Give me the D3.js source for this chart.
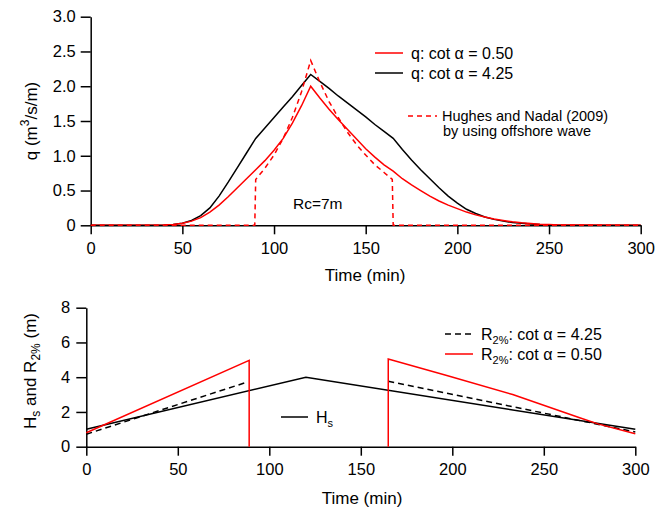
<!DOCTYPE html>
<html>
<head>
<meta charset="utf-8">
<script src="https://cdn.jsdelivr.net/npm/d3@7"></script>
<style>
body { margin: 0; background: #fff; }
text { font-family: Arial, "Liberation Sans", sans-serif; fill: #000; }
.axis path, .axis line { stroke: #000; stroke-width: 1.5; }
.axis text { font-size: 16.5px; font-family: Arial, "Liberation Sans", sans-serif; }
</style>
</head>
<body>
<div id="chart"></div>
<script>
// top panel - overtopping discharge q (m3/s/m) against time (min)
var qTime = [0, 30, 35, 40, 45, 50, 55, 60, 65, 70, 75, 80, 85, 90, 95, 100, 105, 110, 115, 120,
             125, 130, 135, 140, 145, 150, 155, 160, 165, 170, 175, 180, 185, 190, 195, 200,
             205, 210, 215, 220, 225, 230, 235, 240, 245, 250, 255, 260, 300];
var qCot425 = [0, 0, 0.002, 0.005, 0.012, 0.03, 0.07, 0.14, 0.25, 0.42, 0.62, 0.83, 1.04, 1.25, 1.40, 1.55, 1.70, 1.85, 2.01, 2.17,
               2.07, 1.97, 1.86, 1.76, 1.66, 1.56, 1.45, 1.35, 1.25, 1.09, 0.94, 0.80, 0.67, 0.54, 0.42, 0.32,
               0.23, 0.17, 0.12, 0.085, 0.06, 0.04, 0.028, 0.018, 0.01, 0.005, 0.002, 0, 0];
var qCot050 = [0, 0, 0.002, 0.005, 0.012, 0.03, 0.06, 0.11, 0.19, 0.29, 0.41, 0.54, 0.67, 0.80, 0.93, 1.08, 1.25, 1.47, 1.72, 2.00,
               1.83, 1.67, 1.52, 1.38, 1.24, 1.10, 0.98, 0.87, 0.78, 0.67, 0.58, 0.50, 0.42, 0.35, 0.29, 0.24,
               0.19, 0.15, 0.12, 0.09, 0.07, 0.05, 0.035, 0.025, 0.016, 0.01, 0.005, 0.003, 0];
// Hughes and Nadal (2009)
var hnTime = [0, 89.5, 90, 95, 100, 105, 110, 115, 120, 125, 130, 135, 140, 145, 150, 155, 160, 164.5, 165, 300];
var hnQ    = [0, 0, 0.66, 0.82, 1.01, 1.25, 1.55, 1.92, 2.37, 2.06, 1.78, 1.55, 1.34, 1.16, 1.01, 0.87, 0.76, 0.66, 0, 0];

// bottom panel - Hs and R2%
var hsTime = [0, 120, 300];
var hsVal  = [1.0, 4.0, 1.0];
var r425Time = [0, 88, null, 165, 300];
var r425Val  = [0.72, 3.72, null, 3.77, 0.85];
var r050Time = [0, 89, 89, null, 165, 165, 197, 233, 270, 280, 300];
var r050Val  = [0.8, 4.97, 0, null, 0, 5.05, 4.1, 3.0, 1.65, 1.3, 0.75];

var timeTicks = [0, 50, 100, 150, 200, 250, 300];
var qTicks = [0, 0.5, 1.0, 1.5, 2.0, 2.5, 3.0];
var hTicks = [0, 2, 4, 6, 8];

var svgWidth = 668;
var svgHeight = 510;

var svg = d3.select("#chart")
  .append("svg")
  .attr("width", svgWidth)
  .attr("height", svgHeight);

function zip(xs, ys) {
  return xs.map(function(x, i) { return {t: x, v: ys[i]}; });
}

// ---------- top panel ----------
var topBox = {left: 90.7, top: 16.7, width: 550, height: 208.6};
var gTop = svg.append("g").attr("transform", `translate(${topBox.left}, ${topBox.top})`);

var xTop = d3.scaleLinear().domain([0, 300]).range([0, topBox.width]);
var yTop = d3.scaleLinear().domain([0, 3]).range([topBox.height, 0]);

var lineTop = d3.line().x(d => xTop(d.t)).y(d => yTop(d.v));

gTop.append("path")
  .attr("d", lineTop(zip(qTime, qCot425)))
  .attr("fill", "none").attr("stroke", "#000").attr("stroke-width", 1.5);

gTop.append("path")
  .attr("d", lineTop(zip(qTime, qCot050)))
  .attr("fill", "none").attr("stroke", "#ff0000").attr("stroke-width", 1.5);

gTop.append("g")
  .attr("class", "axis")
  .attr("transform", `translate(0, ${topBox.height})`)
  .call(d3.axisBottom(xTop).tickValues(timeTicks).tickSize(9).tickSizeOuter(0).tickPadding(8));

gTop.append("g")
  .attr("class", "axis")
  .call(d3.axisLeft(yTop).tickValues(qTicks).tickSize(10).tickSizeOuter(0).tickPadding(5)
    .tickFormat(d => d === 0 ? "0" : d3.format(".1f")(d)));

gTop.append("path")
  .attr("d", lineTop(zip(hnTime, hnQ)))
  .attr("fill", "none").attr("stroke", "#ff0000").attr("stroke-width", 1.5)
  .attr("stroke-dasharray", "5,4");

// axis titles
svg.append("text")
  .attr("x", 365).attr("y", 281)
  .style("text-anchor", "middle").style("font-size", "17px")
  .text("Time (min)");

var qLab = svg.append("text")
  .attr("transform", "translate(37, 121) rotate(-90)")
  .style("text-anchor", "middle").style("font-size", "17px");
qLab.append("tspan").text("q (m");
qLab.append("tspan").attr("dy", -8).style("font-size", "12px").text("3");
qLab.append("tspan").attr("dy", 8).text("/s/m)");

svg.append("text")
  .attr("x", 293).attr("y", 209)
  .style("font-size", "15.5px")
  .text("Rc=7m");

// top legend
var legTop = svg.append("g");
legTop.append("line").attr("x1", 375).attr("x2", 403).attr("y1", 53).attr("y2", 53)
  .attr("stroke", "#ff0000").attr("stroke-width", 1.5);
legTop.append("text").attr("x", 411).attr("y", 59).style("font-size", "16px").text("q: cot α = 0.50");
legTop.append("line").attr("x1", 375).attr("x2", 403).attr("y1", 73).attr("y2", 73)
  .attr("stroke", "#000").attr("stroke-width", 1.5);
legTop.append("text").attr("x", 411).attr("y", 79).style("font-size", "16px").text("q: cot α = 4.25");
legTop.append("line").attr("x1", 408).attr("x2", 437).attr("y1", 116).attr("y2", 116)
  .attr("stroke", "#ff0000").attr("stroke-width", 1.5).attr("stroke-dasharray", "5,4");
legTop.append("text").attr("x", 442).attr("y", 121).style("font-size", "14.5px").text("Hughes and Nadal (2009)");
legTop.append("text").attr("x", 443).attr("y", 136).style("font-size", "14.5px").text("by using offshore wave");

// ---------- bottom panel ----------
var botBox = {left: 86.3, top: 307.7, width: 549, height: 139};
var gBot = svg.append("g").attr("transform", `translate(${botBox.left}, ${botBox.top})`);

var xBot = d3.scaleLinear().domain([0, 300]).range([0, botBox.width]);
var yBot = d3.scaleLinear().domain([0, 8]).range([botBox.height, 0]);

var lineBot = d3.line()
  .defined(d => d.t !== null)
  .x(d => xBot(d.t)).y(d => yBot(d.v));

gBot.append("path")
  .attr("d", lineBot(zip(hsTime, hsVal)))
  .attr("fill", "none").attr("stroke", "#000").attr("stroke-width", 1.5);

gBot.append("path")
  .attr("d", lineBot(zip(r425Time, r425Val)))
  .attr("fill", "none").attr("stroke", "#000").attr("stroke-width", 1.5)
  .attr("stroke-dasharray", "6,4");

gBot.append("g")
  .attr("class", "axis")
  .attr("transform", `translate(0, ${botBox.height})`)
  .call(d3.axisBottom(xBot).tickValues(timeTicks).tickSize(9).tickSizeOuter(0).tickPadding(8));

gBot.append("g")
  .attr("class", "axis")
  .call(d3.axisLeft(yBot).tickValues(hTicks).tickSize(10).tickSizeOuter(0).tickPadding(6));

gBot.append("path")
  .attr("d", lineBot(zip(r050Time, r050Val)))
  .attr("fill", "none").attr("stroke", "#ff0000").attr("stroke-width", 1.5);

svg.append("text")
  .attr("x", 362).attr("y", 504)
  .style("text-anchor", "middle").style("font-size", "17px")
  .text("Time (min)");

var hLab = svg.append("text")
  .attr("transform", "translate(36, 371) rotate(-90)")
  .style("text-anchor", "middle").style("font-size", "17px");
hLab.append("tspan").text("H");
hLab.append("tspan").attr("dy", 4).style("font-size", "12px").text("s");
hLab.append("tspan").attr("dy", -4).text(" and R");
hLab.append("tspan").attr("dy", 4).style("font-size", "12px").text("2%");
hLab.append("tspan").attr("dy", -4).text(" (m)");

// bottom legend
var legBot = svg.append("g");
legBot.append("line").attr("x1", 445).attr("x2", 473).attr("y1", 334).attr("y2", 334)
  .attr("stroke", "#000").attr("stroke-width", 1.5).attr("stroke-dasharray", "6,4");
var lt1 = legBot.append("text").attr("x", 481).attr("y", 340).style("font-size", "16px");
lt1.append("tspan").text("R");
lt1.append("tspan").attr("dy", 4).style("font-size", "11px").text("2%");
lt1.append("tspan").attr("dy", -4).text(": cot α = 4.25");

legBot.append("line").attr("x1", 445).attr("x2", 473).attr("y1", 354).attr("y2", 354)
  .attr("stroke", "#ff0000").attr("stroke-width", 1.5);
var lt2 = legBot.append("text").attr("x", 481).attr("y", 360).style("font-size", "16px");
lt2.append("tspan").text("R");
lt2.append("tspan").attr("dy", 4).style("font-size", "11px").text("2%");
lt2.append("tspan").attr("dy", -4).text(": cot α = 0.50");

legBot.append("line").attr("x1", 281).attr("x2", 308).attr("y1", 417).attr("y2", 417)
  .attr("stroke", "#000").attr("stroke-width", 1.5);
var lt3 = legBot.append("text").attr("x", 316).attr("y", 423).style("font-size", "16px");
lt3.append("tspan").text("H");
lt3.append("tspan").attr("dy", 4).style("font-size", "11px").text("s");
</script>
</body>
</html>
